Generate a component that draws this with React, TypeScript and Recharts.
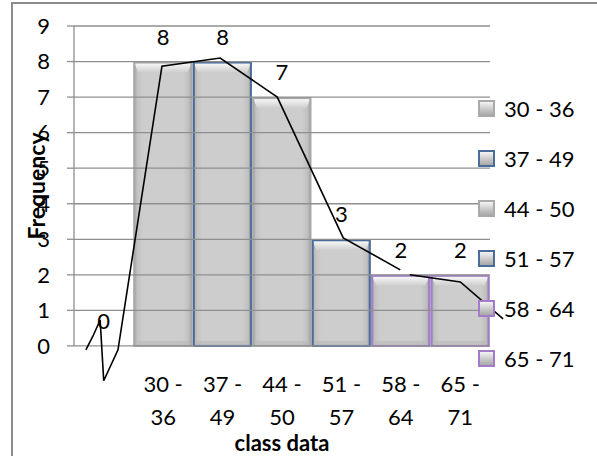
import React from "react"
import {
  ComposedChart,
  Bar,
  Line,
  XAxis,
  YAxis,
  Legend,
  LabelList,
  ReferenceLine,
  Customized,
} from "recharts"

const FONT = "Lato, 'Open Sans', sans-serif"

// class intervals (first slot is the empty lead-in class)
const categories = ["", "30 - 36", "37 - 49", "44 - 50", "51 - 57", "58 - 64", "65 - 71"]
const frequencies = [0, 8, 8, 7, 3, 2, 2]
const seriesNames = categories.slice(1)
const seriesEdges = ["#a9a9a9", "#4a6c9b", "#a9a9a9", "#4a6c9b", "#a27ccb", "#a27ccb"]
const yTicks = [0, 1, 2, 3, 4, 5, 6, 7, 8, 9]

// hand drawn frequency polygon, x in class units (0 = left edge of plot)
const polyX = [0.2, 0.32, 0.44, 0.5, 0.74, 1.48, 2.46, 3.42, 4.53, 5.49, 5.57, 5.65, 6.5, 7.22]
const polyY = [-0.11, 0.28, 0.73, -0.98, -0.11, 7.87, 8.1, 7.0, 3.04, 2.14, null, 2.0, 1.8, 0.76]

const rows = categories.map((c, i) => {
  const r: any = { cat: c, freq: frequencies[i] }
  if (i > 0) r[c] = frequencies[i]
  return r
})
const polyData = polyX.map((x, i) => ({ x, y: polyY[i] }))

const GRID = "#8f8f8f"
// the plot box runs a little past the class slots so the freehand line can overshoot
const X_MAX = 7.42
const Y_MIN = -1.24

const BarShape = (props: any) => {
  const { x, y, width, height, edge } = props
  if (!height || height <= 0) return null
  const b = Math.min(11, height / 2)
  return (
    <g>
      <rect x={x} y={y} width={width} height={height} fill="url(#barBody)" />
      <path
        d={`M${x},${y} L${x + width},${y} L${x + width - 5},${y + b} L${x + 5},${y + b} Z`}
        fill="url(#barTop)"
      />
      <rect x={x} y={y + height - 5} width={width} height={5} fill="#b9b9b9" opacity={0.6} />
      <rect x={x + 1} y={y + 1} width={width - 2} height={height - 1} fill="none" stroke={edge} strokeWidth={2} />
    </g>
  )
}

const XTick = (props: any) => {
  const { x, y, payload } = props
  const v: string = payload.value
  if (!v) return null
  const cut = v.lastIndexOf(" ")
  return (
    <text x={x} y={y} textAnchor="middle" fontSize={22} fill="#000" fontFamily={FONT}>
      <tspan x={x} dy={2}>{v.slice(0, cut)}</tspan>
      <tspan x={x} dy={33}>{v.slice(cut + 1)}</tspan>
    </text>
  )
}

const LegendBox = () => (
  <div style={{ fontFamily: FONT, fontSize: 22, color: "#000" }}>
    {seriesNames.map((name, i) => (
      <div key={name} style={{ height: 50, display: "flex", alignItems: "center" }}>
        <div
          style={{
            width: 13,
            height: 13,
            marginLeft: 2,
            marginRight: 9,
            border: `2px solid ${seriesEdges[i]}`,
            background: "linear-gradient(180deg, #f4f4f4 0%, #cdcdcd 50%, #a9a9a9 100%)",
          }}
        />
        <span style={{ whiteSpace: "nowrap" }}>{name}</span>
      </div>
    ))}
  </div>
)

const Titles = () => (
  <g fontFamily={FONT} fontWeight="bold" fontSize={22} fill="#000">
    <text x={282} y={451} textAnchor="middle">class data</text>
    <text x={36} y={186} textAnchor="middle" dominantBaseline="central" transform="rotate(-90 36 186)" fontSize={23}>
      Frequency
    </text>
  </g>
)

export default function App() {
  return (
    <div style={{ position: "absolute", left: 0, top: 0, width: 597, height: 456, overflow: "hidden", background: "#fff" }}>
      <div style={{ position: "absolute", left: 11, top: 2, width: 600, height: 470, borderLeft: "2px solid #8c8c8c", borderTop: "2px solid #8c8c8c" }} />
      <div style={{ position: "absolute", left: 0, top: 0 }}>
        <ComposedChart
          width={597}
          height={456}
          data={rows}
          barCategoryGap={0}
          margin={{ top: 26, right: 82, bottom: 0, left: 0 }}
        >
          <defs>
            <linearGradient id="barBody" x1="0" y1="0" x2="1" y2="0">
              <stop offset="0%" stopColor="#a4a4a4" />
              <stop offset="7%" stopColor="#c3c3c3" />
              <stop offset="16%" stopColor="#cdcdcd" />
              <stop offset="84%" stopColor="#cdcdcd" />
              <stop offset="93%" stopColor="#c1c1c1" />
              <stop offset="100%" stopColor="#a2a2a2" />
            </linearGradient>
            <linearGradient id="barTop" x1="0" y1="0" x2="0" y2="1">
              <stop offset="0%" stopColor="#ffffff" />
              <stop offset="100%" stopColor="#cdcdcd" />
            </linearGradient>
          </defs>
          <XAxis
            dataKey="cat"
            padding={{ left: 0, right: 25 }}
            axisLine={false}
            tickLine={false}
            tickSize={0}
            tickMargin={0}
            height={66}
            interval={0}
            tick={<XTick />}
          />
          <XAxis xAxisId="poly" type="number" dataKey="x" domain={[0, X_MAX]} hide />
          <YAxis
            width={74}
            type="number"
            domain={[Y_MIN, 9]}
            ticks={yTicks}
            interval={0}
            axisLine={false}
            tickSize={7}
            tickMargin={17}
            tickLine={{ stroke: GRID, strokeWidth: 1.3 }}
            tick={{ fill: "#000", fontSize: 22, fontFamily: FONT }}
          />
          {yTicks.map((t) => (
            <ReferenceLine
              key={t}
              xAxisId="poly"
              segment={[{ x: 0, y: t }, { x: 7, y: t }]}
              stroke={GRID}
              strokeWidth={1.3}
            />
          ))}
          <ReferenceLine xAxisId="poly" segment={[{ x: 0, y: 0 }, { x: 0, y: 9 }]} stroke={GRID} strokeWidth={1.3} />
          {seriesNames.map((name, i) => (
            <Bar
              key={name}
              dataKey={name}
              stackId="h"
              isAnimationActive={false}
              shape={(p: any) => <BarShape {...p} edge={seriesEdges[i]} />}
            />
          ))}
          <Line dataKey="freq" stroke="none" dot={false} activeDot={false} isAnimationActive={false}>
            <LabelList dataKey="freq" position="top" offset={17} fill="#000" fontSize={22} fontFamily={FONT} />
          </Line>
          <Line
            data={polyData}
            xAxisId="poly"
            dataKey="y"
            type="linear"
            stroke="#000"
            strokeWidth={1.6}
            dot={false}
            activeDot={false}
            connectNulls={false}
            isAnimationActive={false}
          />
          <Legend
            layout="horizontal"
            align="center"
            verticalAlign="middle"
            content={<LegendBox />}
            wrapperStyle={{ left: 476, top: 83, width: 121 }}
          />
          <Customized component={Titles} />
        </ComposedChart>
      </div>
    </div>
  )
}
